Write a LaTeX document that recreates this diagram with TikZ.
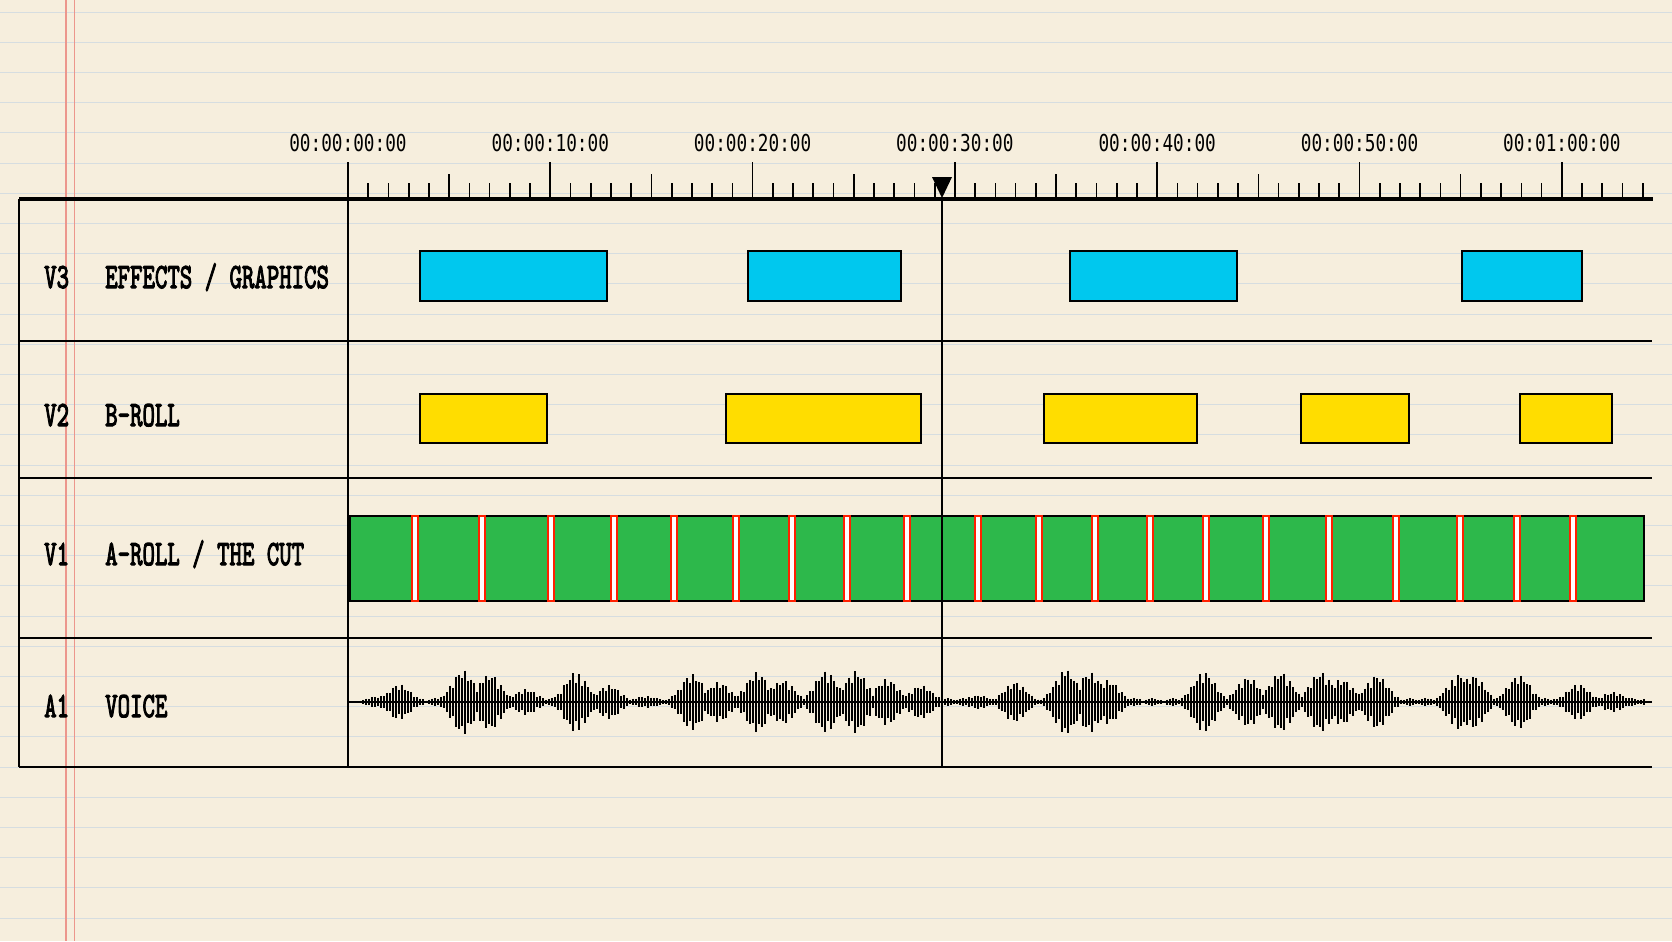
\documentclass[tikz,border=0pt]{standalone}
\usepackage{fontspec}
\usepackage{graphicx}
\newfontfamily\stampfont{DejaVu Sans Mono}
\newfontfamily\trackfont{lmmono10-regular.otf}[FakeBold=3.5]

\definecolor{paper}{RGB}{246,238,221}
\definecolor{ruling}{RGB}{214,221,224}
\definecolor{margin}{RGB}{236,150,140}
\definecolor{fxcyan}{RGB}{0,200,238}
\definecolor{brollyellow}{RGB}{255,221,0}
\definecolor{arollgreen}{RGB}{45,184,75}
\definecolor{cutred}{RGB}{255,32,0}

\newcommand{\stamp}[1]{\scalebox{0.76}[1]{\stampfont\fontsize{19.9pt}{20pt}\selectfont #1}}
\newcommand{\trk}[1]{\scalebox{0.667}[1]{\trackfont\fontsize{30.3pt}{31pt}\selectfont #1}}

\begin{document}
\begin{tikzpicture}[
    x=0.03cm, y=-0.03cm,
    paperline/.style={line width=0.8pt, color=ruling},
    marginline/.style={line width=1.1pt, color=margin},
    frame/.style={line width=1.8pt, black},
    rulerline/.style={line width=2.6pt, black},
    tick/.style={line width=1.4pt, black},
    stamptext/.style={inner sep=0pt, anchor=center},
    tracklabel/.style={inner sep=0pt, anchor=base west},
    fxclip/.style={draw, line width=1.2pt, fill=fxcyan},
    brollclip/.style={draw, line width=1.2pt, fill=brollyellow},
    arollclip/.style={draw, line width=1pt, fill=arollgreen},
    cutmark/.style={draw=cutred, line width=1.3pt, fill=white},
    wave/.style={line width=1.15pt, black},
    playline/.style={line width=2pt, black},
]
% Paper
\fill[paper] (0,0) rectangle (1672,941);
\useasboundingbox (0,0) rectangle (1672,941);
\foreach \k in {0,...,30}
    \draw[paperline] (0,12+30.2*\k) -- (1672,12+30.2*\k);
\draw[marginline] (66,0) -- (66,941);
\draw[marginline] (74.5,0) -- (74.5,941);

% Ruler
\foreach \i in {0,...,64}{
    \pgfmathsetmacro\tx{348+20.23*\i}
    \pgfmathsetmacro\ttop{mod(\i,10)==0 ? 162 : (mod(\i,5)==0 ? 174 : 183)}
    \draw[tick] (\tx,\ttop) -- (\tx,199);
}
\foreach \s/\lab in {0/00:00:00:00, 1/00:00:10:00, 2/00:00:20:00, 3/00:00:30:00,
                     4/00:00:40:00, 5/00:00:50:00, 6/00:01:00:00}
    \node[stamptext] (t\s) at (348+202.3*\s,143) {\stamp{\lab}};

% Track table
\draw[rulerline] (19,199) -- (1653,199);
\draw[frame] (19,199) -- (19,767);
\draw[frame] (348,199) -- (348,767);
\foreach \ry in {341,478,638,767}
    \draw[frame] (19,\ry) -- (1652,\ry);

% Track labels
\node[tracklabel] (v3id) at (44,288) {\trk{V3}};
\node[tracklabel] (v3name) at (105,288) {\trk{EFFECTS / GRAPHICS}};
\node[tracklabel] (v2id) at (44,426) {\trk{V2}};
\node[tracklabel] (v2name) at (105,426) {\trk{B-ROLL}};
\node[tracklabel] (v1id) at (44,565) {\trk{V1}};
\node[tracklabel] (v1name) at (105,565) {\trk{A-ROLL / THE CUT}};
\node[tracklabel] (a1id) at (44,717) {\trk{A1}};
\node[tracklabel] (a1name) at (105,717) {\trk{VOICE}};

% V3 clips
\foreach \a/\b in {420/607, 748/901, 1070/1237, 1462/1582}
    \draw[fxclip] (\a,251) rectangle (\b,301);

% V2 clips
\foreach \a/\b in {420/547, 726/921, 1044/1197, 1301/1409, 1520/1612}
    \draw[brollclip] (\a,394) rectangle (\b,443);

% V1 clip with cuts
\draw[arollclip] (350,516) rectangle (1644,601);
\foreach \c in {415,482,551,614,674,736,792,847,907,978,1039,1095,
                1150,1206,1266,1329,1396,1460,1517,1573}
    \draw[cutmark] (\c-3,516) rectangle (\c+3,601);

% A1 waveform
\draw[wave] (348,702) -- (1652,702);
\begin{scope}
\clip (360,650) rectangle (1648,760);
\foreach \x in {369,372,...,1644}{
    \pgfmathsetmacro\h{1.2+2.4*abs(sin(mod(\x,97)*71))}
    \draw[wave] (\x,702-\h) -- (\x,702+\h);
}
\foreach \c/\a in {378/6, 399/18, 463/32, 490/28, 526/13, 576/30, 609/17, 645/6,
                   692/28, 719/20, 757/30, 783/22, 826/31, 856/31, 887/23, 921/17,
                   977/7, 1015/20, 1066/32, 1090/30, 1108/22, 1204/30, 1248/25,
                   1281/30, 1321/30, 1342/23, 1377/27, 1459/28, 1473/27, 1519/27,
                   1578/18, 1613/10}{
    \pgfmathtruncatemacro\gc{3*round(\c/3)}
    \foreach \k in {-45,-42,...,45}{
        \pgfmathsetmacro\h{\a*exp(-1*(((\gc+\k-\c)/16)^2))*(0.6+0.4*abs(sin(mod(\gc+\k,97)*83)))}
        \draw[wave] (\gc+\k,702-\h) -- (\gc+\k,702+\h);
    }
}
\end{scope}

% Playhead
\draw[playline] (942,197) -- (942,767);
\fill[black] (932,177) -- (952,177) -- (942,198) -- cycle;

\end{tikzpicture}
\end{document}
